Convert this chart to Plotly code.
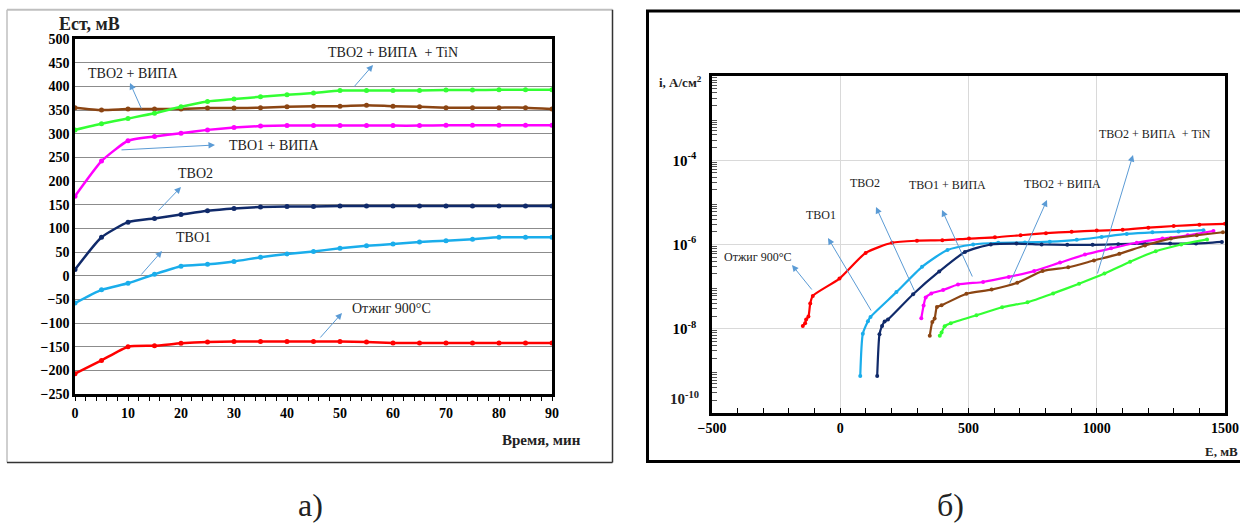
import plotly.graph_objects as go

W, H = 1240, 524

# ---------------- panel a) data ----------------
time_min = [0, 5, 10, 15, 20, 25, 30, 35, 40, 45, 50, 55, 60, 65, 70, 75, 80, 85, 90]
a_annealed = [-207, -179, -150, -148, -143, -140, -139, -139, -139, -139, -139, -140, -142, -142, -142, -142, -142, -142, -142]
a_tvo1 = [-58, -30, -16, 3, 20, 24, 30, 39, 46, 51, 58, 63, 67, 71, 74, 77, 81, 81, 81]
a_tvo2 = [13, 81, 113, 121, 129, 137, 142, 145, 146, 146, 147, 147, 147, 147, 147, 147, 147, 147, 147]
a_tvo1_vipa = [168, 242, 285, 294, 301, 308, 313, 316, 317, 317, 317, 317, 317, 317, 318, 318, 318, 318, 318]
a_tvo2_vipa = [355, 350, 352, 352, 352, 354, 354, 355, 357, 358, 358, 360, 358, 357, 355, 355, 355, 355, 352]
a_tvo2_vipa_tin = [308, 321, 332, 343, 357, 368, 373, 378, 382, 386, 391, 391, 391, 391, 392, 392, 393, 393, 393]

# ---------------- panel б) data ----------------
b_annealed_E = [-146, -137, -133, -124, -117, -107, -3, 99, 202, 299, 398, 502, 603, 703, 802, 902, 1000, 1101, 1201, 1300, 1400, 1500]
b_annealed_i = [1.17e-8, 1.35e-8, 1.66e-8, 1.95e-8, 3.98e-8, 6.03e-8, 1.55e-7, 6.31e-7, 1.10e-6, 1.23e-6, 1.26e-6,
                1.38e-6, 1.48e-6, 1.66e-6, 1.86e-6, 2.0e-6, 2.14e-6, 2.24e-6, 2.51e-6, 2.75e-6, 2.95e-6, 3.09e-6]
b_tvo1_E = [78, 88, 108, 118, 219, 319, 418, 518, 616, 720, 817, 922, 1019, 1117, 1217, 1319, 1416]
b_tvo1_i = [7.6e-10, 7.6e-9, 1.51e-8, 1.91e-8, 7.41e-8, 2.95e-7, 7.41e-7, 1.0e-6, 1.10e-6, 1.12e-6, 1.17e-6,
            1.29e-6, 1.51e-6, 1.78e-6, 1.95e-6, 2.04e-6, 2.19e-6]
b_tvo2_E = [144, 153, 163, 173, 186, 284, 386, 486, 587, 687, 785, 885, 984, 1084, 1185, 1286, 1387, 1488]
b_tvo2_i = [7.6e-10, 7.4e-9, 1.17e-8, 1.48e-8, 1.66e-8, 6.6e-8, 2.29e-7, 6.6e-7, 1.0e-6, 1.05e-6, 1.0e-6,
            9.8e-7, 9.8e-7, 1.02e-6, 1.05e-6, 1.05e-6, 1.05e-6, 1.15e-6]
b_tvo1_vipa_E = [316, 325, 333, 355, 401, 459, 557, 657, 756, 857, 954, 1056, 1156, 1256, 1355, 1455]
b_tvo1_vipa_i = [1.78e-8, 3.55e-8, 5.5e-8, 6.9e-8, 8.3e-8, 1.12e-7, 1.29e-7, 1.70e-7, 2.34e-7, 3.72e-7,
                 5.75e-7, 8.1e-7, 1.10e-6, 1.38e-6, 1.66e-6, 2.09e-6]
b_tvo2_vipa_E = [349, 359, 368, 377, 395, 492, 590, 690, 789, 889, 989, 1088, 1188, 1289, 1390, 1492]
b_tvo2_vipa_i = [6.8e-9, 1.45e-8, 1.74e-8, 3.3e-8, 3.6e-8, 6.8e-8, 8.5e-8, 1.23e-7, 2.34e-7, 2.88e-7,
                 4.17e-7, 6.0e-7, 9.5e-7, 1.38e-6, 1.66e-6, 1.95e-6]
b_tvo2_vipa_tin_E = [388, 395, 407, 431, 531, 631, 730, 830, 931, 1030, 1130, 1230, 1329, 1430]
b_tvo2_vipa_tin_i = [6.8e-9, 8.1e-9, 1.15e-8, 1.35e-8, 2.09e-8, 3.24e-8, 4.27e-8, 6.9e-8, 1.17e-7,
                     2.04e-7, 3.9e-7, 6.9e-7, 1.0e-6, 1.32e-6]

b_ytick_vals = [1e-4, 1e-6, 1e-8]
b_ytick_text = ["10<sup>-4</sup>", "10<sup>-6</sup>", "10<sup>-8</sup>"]
b_minor_vals = [k * 10.0 ** e for e in range(-10, -2) for k in range(2, 10)]

C_RED = "#FF0000"
C_LBLUE = "#1AADEB"
C_NAVY = "#102A6A"
C_MAG = "#FF00FF"
C_BROWN = "#8B4513"
C_GREEN = "#33FF33"

SERIF = "Liberation Serif, Times New Roman, DejaVu Serif, serif"

fig = go.Figure()

series_a = [
    (a_tvo2_vipa, C_BROWN), (a_tvo2_vipa_tin, C_GREEN), (a_tvo1_vipa, C_MAG),
    (a_tvo2, C_NAVY), (a_tvo1, C_LBLUE), (a_annealed, C_RED),
]
for ys, c in series_a:
    fig.add_trace(go.Scatter(x=time_min, y=ys, mode="lines+markers",
                             line=dict(color=c, width=2.5, shape="spline", smoothing=0.5),
                             marker=dict(color=c, size=5), xaxis="x", yaxis="y", showlegend=False))

series_b = [
    (b_annealed_E, b_annealed_i, C_RED), (b_tvo1_E, b_tvo1_i, C_LBLUE), (b_tvo2_E, b_tvo2_i, C_NAVY),
    (b_tvo1_vipa_E, b_tvo1_vipa_i, C_MAG), (b_tvo2_vipa_E, b_tvo2_vipa_i, C_BROWN),
    (b_tvo2_vipa_tin_E, b_tvo2_vipa_tin_i, C_GREEN),
]
for xs, ys, c in series_b:
    fig.add_trace(go.Scatter(x=xs, y=ys, mode="lines+markers",
                             line=dict(color=c, width=2.2, shape="spline", smoothing=0.6),
                             marker=dict(color=c, size=4), xaxis="x2", yaxis="y2", showlegend=False))


def px(x):
    return x / W


def py(y):
    return 1 - y / H


bold_font = dict(family=SERIF, size=14, color="black", weight="bold")

fig.update_layout(
    template="none",
    width=W, height=H, margin=dict(l=0, r=0, t=0, b=0, autoexpand=False),
    paper_bgcolor="white", plot_bgcolor="white",
    font=dict(family=SERIF),
    xaxis=dict(domain=[px(75), px(552)], range=[0, 90], dtick=10, tick0=0, automargin=False,
               showline=True, linecolor="black", linewidth=2.5, mirror=True,
               showgrid=False, zeroline=False, ticks="outside", ticklen=4, tickcolor="black",
               minor=dict(dtick=2, ticks="outside", ticklen=4, tickcolor="black", showgrid=False),
               tickfont=bold_font, anchor="y"),
    yaxis=dict(domain=[py(394), py(39)], range=[-250, 500], dtick=50, tick0=0, automargin=False,
               showline=True, linecolor="black", linewidth=2.5, mirror=True,
               showgrid=True, gridcolor="#8C8C8C", gridwidth=1, zeroline=False, ticks="",
               tickfont=bold_font, anchor="x"),
    xaxis2=dict(domain=[px(712), px(1225)], range=[-500, 1500], automargin=False,
                tickvals=[-500, 0, 500, 1000, 1500],
                showline=True, linecolor="black", linewidth=2.5, mirror=True,
                showgrid=True, gridcolor="#D9D9D9", gridwidth=1, zeroline=False,
                ticks="inside", ticklen=5, tickcolor="black",
                minor=dict(dtick=100, tick0=0, ticks="inside", ticklen=5, tickcolor="black", showgrid=False),
                tickfont=bold_font, anchor="y2"),
    yaxis2=dict(domain=[py(413), py(76)], type="log", range=[-10, -2], automargin=False,
                tickvals=b_ytick_vals, ticktext=b_ytick_text,
                showline=True, linecolor="black", linewidth=2.5, mirror=True,
                showgrid=True, gridcolor="#D9D9D9", gridwidth=1, zeroline=False,
                ticks="", ticklabelstandoff=10,
                tickfont=dict(family=SERIF, size=15, color="black", weight="bold"), anchor="x2"),
    yaxis3=dict(domain=[py(413), py(76)], type="log", range=[-10, -2], overlaying="y2", automargin=False,
                tickvals=b_minor_vals, showticklabels=False, ticks="inside", ticklen=5, tickwidth=1,
                tickcolor="#555555", showgrid=False, zeroline=False, showline=False, anchor="x2"),
)
# invisible trace to activate the minor-tick log axis
fig.add_trace(go.Scatter(x=[None], y=[None], xaxis="x2", yaxis="y3", showlegend=False, hoverinfo="skip"))

shapes = [
    # frame of panel a
    dict(type="line", xref="paper", yref="paper", x0=px(7), x1=px(612.5), y0=py(9.7), y1=py(9.7),
         line=dict(color="#BFBFBF", width=2)),
    dict(type="line", xref="paper", yref="paper", x0=px(7), x1=px(7), y0=py(9.7), y1=py(462.5),
         line=dict(color="#BFBFBF", width=1.5)),
    dict(type="line", xref="paper", yref="paper", x0=px(612.5), x1=px(612.5), y0=py(9.7), y1=py(462.5),
         line=dict(color="#333333", width=1.5)),
    dict(type="line", xref="paper", yref="paper", x0=px(7), x1=px(612.5), y0=py(462.5), y1=py(462.5),
         line=dict(color="#333333", width=1.5)),
    # frame of panel b
    dict(type="rect", xref="paper", yref="paper", x0=px(647.5), x1=px(1250), y0=py(461.5), y1=py(11),
         line=dict(color="black", width=3)),
]
fig.update_layout(shapes=shapes)

ann = []


def label(text, x, y, size=13, bold=False, xanchor="center"):
    t = f"<b>{text}</b>" if bold else text
    ann.append(dict(text=t, x=px(x), y=py(y), xref="paper", yref="paper", showarrow=False,
                    xanchor=xanchor, yanchor="middle", font=dict(family=SERIF, size=size, color="#222222")))


def arrow(x_tail, y_tail, x_head, y_head):
    ann.append(dict(text="", x=px(x_head), y=py(y_head), xref="paper", yref="paper",
                    ax=x_tail - x_head, ay=y_tail - y_head, axref="pixel", ayref="pixel",
                    showarrow=True, arrowhead=2, arrowsize=1.3, arrowwidth=1, arrowcolor="#5B9BD5",
                    standoff=0, startstandoff=0))


# panel a texts
label("Ест, мВ", 89, 24, size=18, bold=True)
label("Время, мин", 541, 440, size=15, bold=True)
label("ТВО2 + ВИПА", 133, 74, size=14)
arrow(142, 110, 130, 83)
label("ТВО2 + ВИПА  + TiN", 393, 52, size=14)
arrow(353, 88, 373, 65)
label("ТВО1 + ВИПА", 274, 146, size=14)
arrow(120, 150, 215, 145)
label("ТВО2", 195, 173, size=14)
arrow(157, 212, 181, 187)
label("ТВО1", 193, 237, size=14)
arrow(140, 276, 162, 251)
label("Отжиг 900°C", 391, 308, size=14)
arrow(319, 339, 342, 313)

# panel b texts
label("i, А/см<sup>2</sup>", 680, 82, size=13, bold=True)
label("E, мВ", 1221, 451, size=13, bold=True)
label("10<sup>-10</sup>", 684, 398, size=15, bold=True)
label("ТВО1", 821, 215, size=12)
arrow(872, 312, 828, 238)
label("ТВО2", 865, 183, size=12)
arrow(915, 292, 876, 207)
label("ТВО1 + ВИПА", 947, 185, size=12)
arrow(973, 278, 942, 210)
label("ТВО2 + ВИПА", 1062, 184, size=12)
arrow(1009, 285, 1047, 200)
label("ТВО2 + ВИПА  + TiN", 1155, 134, size=12)
arrow(1097, 275, 1133, 155)
label("Отжиг 900°C", 758, 257, size=12)
arrow(813, 291, 792, 265)

# captions
label("а)", 310, 505, size=32)
label("б)", 950, 505, size=32)

fig.update_layout(annotations=ann)

fig.write_html("out.html", config={"displayModeBar": False},
               post_script="document.body.style.margin='0px';document.body.style.overflow='hidden';")
